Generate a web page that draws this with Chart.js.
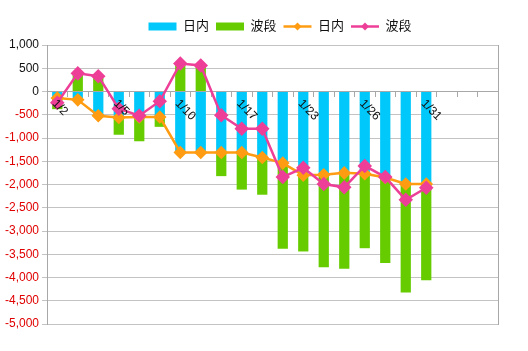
<!DOCTYPE html>
<html>
<head>
<meta charset="utf-8">
<script src="https://cdn.jsdelivr.net/npm/chart.js@4.4.1/dist/chart.umd.min.js"></script>
<style>
  html, body { margin: 0; padding: 0; background: #fff; }
</style>
</head>
<body>
<canvas id="c" width="528" height="351"></canvas>
<script>
// categories (last three slots are empty in the original sheet)
const dates = ['1/2', '1/3', '1/4', '1/5', '1/8', '1/9', '1/10', '1/11', '1/16', '1/17', '1/18', '1/19',
  '1/23', '1/24', '1/25', '1/26', '1/29', '1/30', '1/31', '', '', ''];
// only these dates get a label on the axis
const shownDates = ['1/2', '1/5', '1/10', '1/17', '1/23', '1/26', '1/31'];

// 日内 / 波段 values (bars are stacked, lines show the same numbers)
const intraday = [-140, -180, -520, -560, -550, -550, -1310, -1310, -1310, -1310, -1420, -1540,
  -1800, -1790, -1750, -1770, -1850, -1990, -1990];
const swing = [-240, 390, 330, -370, -520, -210, 600, 560, -510, -800, -800, -1840,
  -1640, -1990, -2060, -1600, -1840, -2330, -2070];

const yMin = -5000;
const yMax = 1000;
const yStep = 500;

const gridGrey = '#c3c3c3';
const axisGrey = '#a8a8a8';

Chart.defaults.font.family = "'Liberation Sans', 'Noto Sans CJK SC', sans-serif";

// rotated date labels sitting on the zero line
const dateLabels = {
  id: 'dateLabels',
  afterDraw(chart) {
    const { ctx, scales: { x, y } } = chart;
    const y0 = y.getPixelForValue(0);
    ctx.save();
    ctx.font = "12px 'Liberation Sans'";
    ctx.fillStyle = '#111';
    ctx.textAlign = 'left';
    ctx.textBaseline = 'top';
    dates.forEach((d, i) => {
      if (!shownDates.includes(d)) return;
      ctx.save();
      ctx.translate(x.getPixelForValue(i) + 1, y0 + 6);
      ctx.rotate(Math.PI / 4);
      ctx.fillText(d, 0, 0);
      ctx.restore();
    });
    ctx.restore();
  }
};

// legend sits right of centre and a bit higher, line items get a diamond
const legendTweaks = {
  id: 'legendTweaks',
  afterLayout(chart) {
    const lg = chart.legend;
    if (!lg) return;
    lg.left += 30;
    lg.right += 30;
    lg.top -= 2;
    lg.bottom -= 2;
  },
  afterDraw(chart) {
    const lg = chart.legend;
    if (!lg || !lg.legendHitBoxes) return;
    const ctx = chart.ctx;
    lg.legendItems.forEach((item, i) => {
      const ds = chart.data.datasets[item.datasetIndex];
      if (ds.type !== 'line') return;
      const hb = lg.legendHitBoxes[i];
      const cx = hb.left + 14;
      const cy = hb.top + hb.height / 2;
      const r = 4;
      ctx.save();
      ctx.fillStyle = ds.borderColor;
      ctx.beginPath();
      ctx.moveTo(cx, cy - r);
      ctx.lineTo(cx + r, cy);
      ctx.lineTo(cx, cy + r);
      ctx.lineTo(cx - r, cy);
      ctx.closePath();
      ctx.fill();
      ctx.restore();
    });
  }
};

new Chart(document.getElementById('c'), {
  data: {
    labels: dates,
    datasets: [
      {
        type: 'bar',
        label: '日内',
        data: intraday,
        backgroundColor: '#00c8fa',
        borderWidth: 0,
        barPercentage: 0.5,
        categoryPercentage: 1,
        order: 2
      },
      {
        type: 'bar',
        label: '波段',
        data: swing,
        backgroundColor: '#66cc00',
        borderWidth: 0,
        barPercentage: 0.5,
        categoryPercentage: 1,
        order: 3
      },
      {
        type: 'line',
        label: '日内',
        data: intraday,
        stack: 'l1',
        borderColor: '#ff9c12',
        backgroundColor: '#ff9c12',
        borderWidth: 2.5,
        pointStyle: 'rectRot',
        pointRadius: 5,
        tension: 0,
        order: 1
      },
      {
        type: 'line',
        label: '波段',
        data: swing,
        stack: 'l2',
        borderColor: '#ee3f98',
        backgroundColor: '#ee3f98',
        borderWidth: 2.5,
        pointStyle: 'rectRot',
        pointRadius: 5.5,
        tension: 0,
        order: 0
      }
    ]
  },
  options: {
    responsive: false,
    animation: false,
    layout: { padding: { left: 2, right: 30, top: 15, bottom: 27 } },
    plugins: {
      tooltip: { enabled: false },
      legend: {
        position: 'top',
        labels: {
          usePointStyle: true,
          pointStyleWidth: 28,
          boxHeight: 8,
          padding: 7,
          color: '#111',
          font: { size: 13 },
          sort: (a, b) => a.datasetIndex - b.datasetIndex,
          generateLabels(chart) {
            const items = Chart.defaults.plugins.legend.labels.generateLabels(chart);
            items.forEach(it => {
              it.pointStyle = chart.data.datasets[it.datasetIndex].type === 'line' ? 'line' : 'rect';
            });
            return items;
          }
        }
      }
    },
    scales: {
      x: {
        position: { y: 0 },
        stacked: true,
        offset: true,
        grid: { drawOnChartArea: false, drawTicks: true, tickLength: 5, color: axisGrey, offset: true },
        border: { color: axisGrey },
        ticks: { display: false }
      },
      y: {
        stacked: true,
        min: yMin,
        max: yMax,
        ticks: {
          stepSize: yStep,
          padding: 3,
          font: { size: 12 },
          color: c => (c.tick && c.tick.value < 0 ? '#e00000' : '#111'),
          callback: v => v.toLocaleString('en-US')
        },
        grid: { color: gridGrey, tickLength: 5 },
        border: { color: axisGrey }
      },
      yr: {
        position: 'right',
        ticks: { display: false },
        grid: { drawOnChartArea: false, drawTicks: false },
        border: { color: axisGrey }
      }
    }
  },
  plugins: [dateLabels, legendTweaks]
});
</script>
</body>
</html>
